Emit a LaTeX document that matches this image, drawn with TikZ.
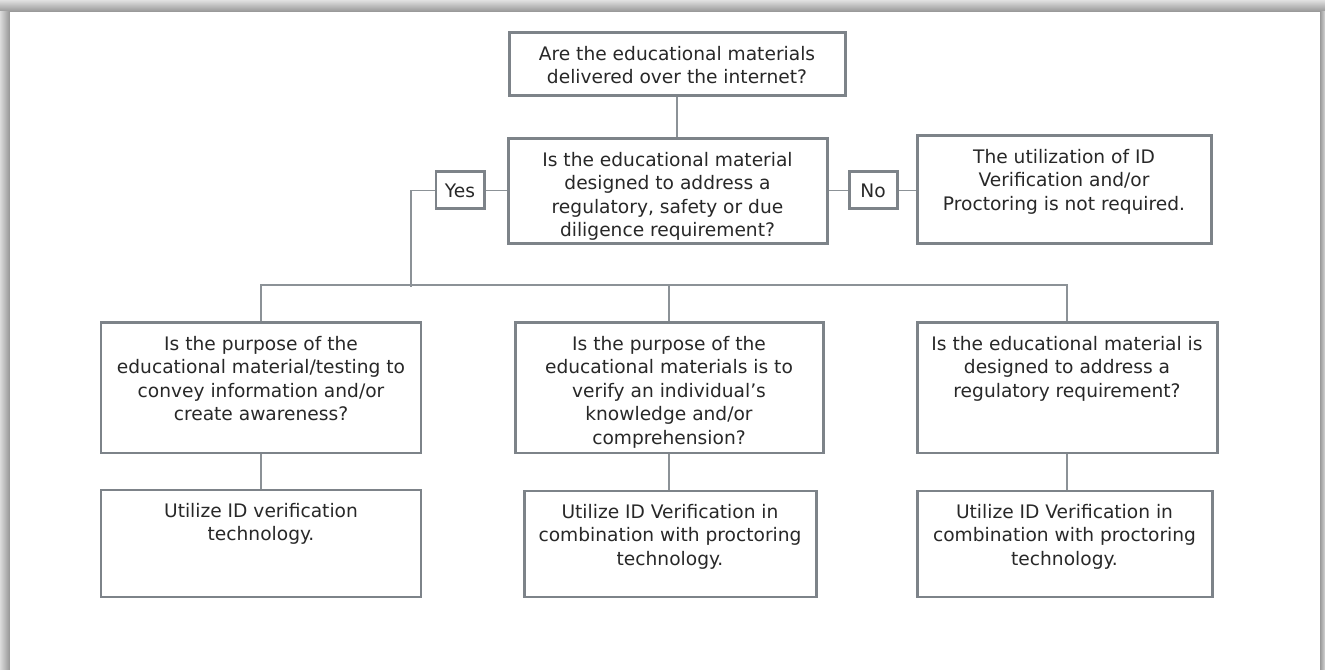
\documentclass[tikz,border=0pt]{standalone}
\usepackage{fontspec}
\setmainfont{DejaVu Sans}
\definecolor{frame}{RGB}{125,131,137}
\definecolor{wire}{RGB}{140,146,151}
\definecolor{ink}{RGB}{40,40,40}
\usetikzlibrary{calc}
\newcommand{\boxlines}[3]{\parbox[c][#2][t]{#1}{\centering\vspace*{7.5pt}#3}}
\tikzset{
  qbox/.style={draw=frame, line width=1.7pt, fill=white, inner sep=0pt, text=ink,
               font=\fontsize{10.6}{13.4}\selectfont},
  tag/.style={draw=frame, line width=1.7pt, fill=white, inner sep=0pt, text=ink,
              minimum width=0.96cm, minimum height=0.74cm, font=\fontsize{10.6}{13.4}\selectfont},
  link/.style={draw=wire, line width=0.85pt},
}

\begin{document}
\begin{tikzpicture}
        \useasboundingbox (0,0) rectangle (26.5,13.4);
        \shade[top color=black!12, bottom color=black!42] (0,13.16) rectangle (26.5,13.4);
        \shade[left color=black!14, right color=black!42] (0,0) rectangle (0.2,13.16);
        \shade[left color=black!40, right color=black!16] (26.4,0) rectangle (26.5,13.16);
        \fill[white] (0.2,0) rectangle (26.4,13.16);

        \node[qbox] (q0) at (13.54,12.11) {\boxlines{6.72cm}{1.26cm}{Are the educational materials\\delivered over the internet?}};
        \node[qbox] (q1) at (13.35,9.57)  {\boxlines{6.38cm}{2.10cm}{Is the educational material\\designed to address a\\regulatory, safety or due\\diligence requirement?}};
        \node[tag]  (yes) at (9.20,9.59)  {Yes};
        \node[tag]  (no)  at (17.46,9.59) {No};
        \node[qbox] (nreq) at (21.28,9.60) {\boxlines{5.88cm}{2.16cm}{The utilization of ID\\Verification and/or\\Proctoring is not required.}};

        \node[qbox] (qa) at (5.22,5.64)  {\boxlines{6.40cm}{2.60cm}{Is the purpose of the\\educational material/testing to\\convey information and/or\\create awareness?}};
        \node[qbox] (qb) at (13.38,5.64) {\boxlines{6.16cm}{2.60cm}{Is the purpose of the\\educational materials is to\\verify an individual's\\knowledge and/or\\comprehension?}};
        \node[qbox] (qc) at (21.34,5.64) {\boxlines{6.00cm}{2.60cm}{Is the educational material is\\designed to address a\\regulatory requirement?}};

        \node[qbox] (ra) at (5.22,2.53)  {\boxlines{6.40cm}{2.14cm}{Utilize ID verification\\technology.}};
        \node[qbox] (rb) at (13.40,2.52) {\boxlines{5.84cm}{2.12cm}{Utilize ID Verification in\\combination with proctoring\\technology.}};
        \node[qbox] (rc) at (21.29,2.52) {\boxlines{5.90cm}{2.12cm}{Utilize ID Verification in\\combination with proctoring\\technology.}};

        \coordinate (drop) at (8.22,7.66);
        \coordinate (bus)  at (13.38,7.70);
        \draw[link] (q0.south) -- (q0.south |- q1.north);
        \draw[link] (yes.east) -- (yes.east -| q1.west);
        \draw[link] (q1.east |- no.west) -- (no.west);
        \draw[link] (no.east) -- (no.east -| nreq.west);
        \draw[link] (yes.west) -| (drop);
        \draw[link] (qa.north) |- (bus) -| (qc.north);
        \draw[link] (bus) -- (qb.north);
        \draw[link] (qa.south) -- (ra.north);
        \draw[link] (qb.south) -- (qb.south |- rb.north);
        \draw[link] (qc.south) -- (qc.south |- rc.north);
      \end{tikzpicture}
\end{document}
